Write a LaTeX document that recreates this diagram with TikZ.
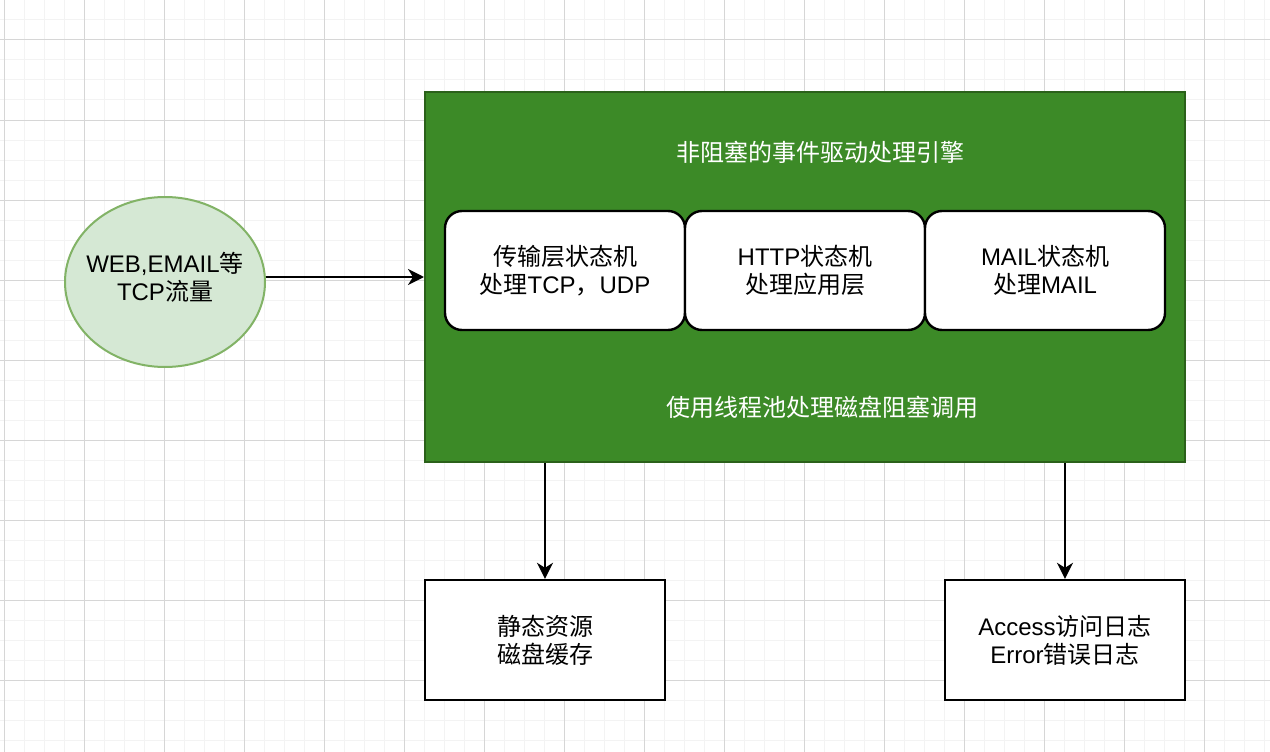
\documentclass[tikz,border=0pt]{standalone}
\usepackage{fontspec}
\setmainfont{Liberation Sans}
\newfontfamily\cjk{Noto Sans CJK SC}
\usetikzlibrary{arrows.meta,shapes.geometric}
\definecolor{gridminor}{HTML}{F3F3F3}
\definecolor{gridmajor}{HTML}{D6D6D6}
\definecolor{engfill}{HTML}{3C8A27}
\definecolor{engline}{HTML}{2B611A}
\definecolor{srcfill}{HTML}{D5E8D4}
\definecolor{srcline}{HTML}{82B366}
\tikzset{
  box/.style={draw=black, line width=2.4pt, fill=white, minimum width=240pt, minimum height=120pt, align=center, inner sep=0pt},
  statebox/.style={box, rounded corners=17pt, minimum height=119pt},
  arr/.style={-{Stealth[length=16pt,width=16pt,inset=5pt]}, line width=2.4pt},
  whitetext/.style={text=white, inner sep=0pt},
}
\begin{document}
\begin{tikzpicture}[x=1pt,y=-1pt, font=\fontsize{24}{28}\selectfont]
\useasboundingbox (0,0) rectangle (1270,752);
\fill[white] (0,0) rectangle (1270,752);
% grid
\foreach \x in {4,24,...,1270} \draw[gridminor, line width=1pt] (\x,0) -- (\x,752);
\foreach \y in {0,20,...,752} \draw[gridminor, line width=1pt] (0,\y) -- (1270,\y);
\foreach \x in {4,84,...,1270} \draw[gridmajor, line width=1pt] (\x,0) -- (\x,752);
\foreach \y in {40,120,...,752} \draw[gridmajor, line width=1pt] (0,\y) -- (1270,\y);

% engine
\node[draw=engline, fill=engfill, line width=2pt, minimum width=760pt, minimum height=370pt, inner sep=0pt] (engine) at (805,277) {};
\node[whitetext] (title) at (820,152) {\cjk 非阻塞的事件驱动处理引擎};
\node[whitetext] (footer) at (822,407) {\cjk 使用线程池处理磁盘阻塞调用};

\node[statebox] (tl) at (565,270.5) {{\cjk 传输层状态机}\\{\cjk 处理}TCP{\cjk ，}UDP};
\node[statebox] (http) at (805,270.5) {HTTP{\cjk 状态机}\\{\cjk 处理应用层}};
\node[statebox] (mail) at (1045,270.5) {MAIL{\cjk 状态机}\\{\cjk 处理}MAIL};

% source
\node[ellipse, draw=srcline, fill=srcfill, line width=2pt, minimum width=200pt, minimum height=170pt, inner sep=0pt,
  label={[align=center, inner sep=0pt, yshift=5pt]center:WEB,EMAIL{\cjk 等}\\TCP{\cjk 流量}}] (src) at (165,282) {};

% outputs
\node[box] (static) at (545,640) {{\cjk 静态资源}\\{\cjk 磁盘缓存}};
\node[box] (logs) at (1065,640) {Access{\cjk 访问日志}\\Error{\cjk 错误日志}};

% connectors
\coordinate (srcout) at ([yshift=5pt]src.east);
\draw[arr] (srcout) -- (engine.west |- srcout);
\draw[arr] (engine.south -| static.north) -- (static.north);
\draw[arr] (engine.south -| logs.north) -- (logs.north);
\end{tikzpicture}
\end{document}
